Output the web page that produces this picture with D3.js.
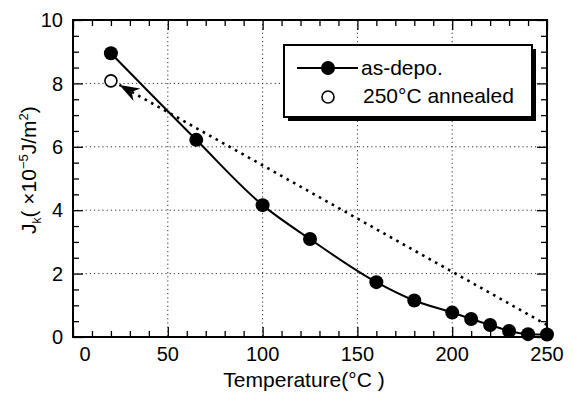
<!DOCTYPE html>
<html>
<head>
<meta charset="utf-8">
<script src="https://cdn.jsdelivr.net/npm/d3@7"></script>
<style>
  html, body { margin: 0; padding: 0; background: #fff; }
  svg { display: block; font-family: "Liberation Sans", Arial, sans-serif; }
</style>
</head>
<body>
<div id="chart"></div>
<script>
// Jk vs temperature, as-deposited series + one annealed point
const temps = [20, 65, 100, 125, 160, 180, 200, 210, 220, 230, 240, 250];
const jkAsDepo = [8.95, 6.22, 4.16, 3.09, 1.73, 1.15, 0.77, 0.57, 0.38, 0.19, 0.09, 0.08];
const annealedTemp = [20];
const annealedJk = [8.08];
// dotted arrow: from the 250C point back to the annealed value
const arrowTemps = [250, 24.5];
const arrowJk = [0.38, 7.95];

const xTicks = [0, 50, 100, 150, 200, 250];
const yTicks = [0, 2, 4, 6, 8, 10];

const width = 574, height = 403;
const margin = { top: 20, right: 27, bottom: 66, left: 73 };

const svg = d3.select("#chart").append("svg")
  .attr("width", width)
  .attr("height", height);

const x = d3.scaleLinear().domain([0, 250]).range([margin.left, width - margin.right]);
const y = d3.scaleLinear().domain([0, 10]).range([height - margin.bottom, margin.top]);

const x0 = x.range()[0], x1 = x.range()[1];
const y0 = y.range()[0], y1 = y.range()[1];

// grid (dotted)
const gridX = xTicks.slice(1, -1), gridY = yTicks.slice(1, -1);
svg.append("g").selectAll("line").data(gridX).join("line")
  .attr("x1", d => x(d)).attr("x2", d => x(d))
  .attr("y1", y1).attr("y2", y0)
  .attr("stroke", "#333").attr("stroke-width", 1)
  .attr("stroke-dasharray", "1.2,3");
svg.append("g").selectAll("line").data(gridY).join("line")
  .attr("x1", x0).attr("x2", x1)
  .attr("y1", d => y(d)).attr("y2", d => y(d))
  .attr("stroke", "#333").attr("stroke-width", 1)
  .attr("stroke-dasharray", "1.2,3");

// ticks, all pointing inward
const xMinor = d3.range(0, 251, 10).filter(d => d % 50 !== 0);
const yMinor = d3.range(0, 10.01, 0.5).filter(d => d % 2 !== 0);

function tickGroup(axis, tx, ty) {
  const g = svg.append("g").attr("transform", `translate(${tx},${ty})`).call(axis);
  g.select(".domain").remove();
  g.selectAll(".tick line").attr("stroke", "#000").attr("stroke-width", 1.3);
  g.selectAll(".tick text").remove();
  return g;
}
tickGroup(d3.axisBottom(x).tickValues(xTicks).tickSize(-10), 0, y0);
tickGroup(d3.axisBottom(x).tickValues(xMinor).tickSize(-6), 0, y0);
tickGroup(d3.axisTop(x).tickValues(xTicks).tickSize(-10), 0, y1);
tickGroup(d3.axisTop(x).tickValues(xMinor).tickSize(-6), 0, y1);
tickGroup(d3.axisLeft(y).tickValues(yTicks).tickSize(-10), x0, 0);
tickGroup(d3.axisLeft(y).tickValues(yMinor).tickSize(-6), x0, 0);
tickGroup(d3.axisRight(y).tickValues(yTicks).tickSize(-10), x1, 0);
tickGroup(d3.axisRight(y).tickValues(yMinor).tickSize(-6), x1, 0);

// frame
svg.append("rect")
  .attr("x", x0).attr("y", y1)
  .attr("width", x1 - x0).attr("height", y0 - y1)
  .attr("fill", "none").attr("stroke", "#000").attr("stroke-width", 2);

// tick labels
svg.append("g").selectAll("text").data(xTicks).join("text")
  .attr("x", d => x(d) + (d === 0 ? 12 : 0))
  .attr("y", 361)
  .attr("text-anchor", "middle")
  .style("font-size", "20px")
  .text(d => d);

svg.append("g").selectAll("text").data(yTicks).join("text")
  .attr("x", x0 - 10)
  .attr("y", d => y(d))
  .attr("dy", "0.36em")
  .attr("text-anchor", "end")
  .style("font-size", "20px")
  .text(d => d);

// axis titles
svg.append("text")
  .attr("x", 304).attr("y", 387)
  .attr("text-anchor", "middle")
  .style("font-size", "21px")
  .text("Temperature(°C )");

const yTitle = svg.append("text")
  .attr("transform", "translate(36,234) rotate(-90)")
  .style("font-size", "21px");
yTitle.append("tspan").text("J");
yTitle.append("tspan").attr("dy", 5).style("font-size", "12px").text("k");
yTitle.append("tspan").attr("dy", -5).text("( ×10");
yTitle.append("tspan").attr("dy", -8).style("font-size", "13px").text("−5");
yTitle.append("tspan").attr("dy", 8).text("J/m");
yTitle.append("tspan").attr("dy", -8).style("font-size", "13px").text("2");
yTitle.append("tspan").attr("dy", 8).text(")");

// dotted arrow
svg.append("defs").append("marker")
  .attr("id", "arrowhead")
  .attr("viewBox", "0 0 20 14")
  .attr("refX", 20).attr("refY", 7)
  .attr("markerWidth", 20).attr("markerHeight", 14)
  .attr("markerUnits", "userSpaceOnUse")
  .attr("orient", "auto")
  .append("path")
  .attr("d", "M0,0 L20,7 L0,14 L6,7 Z")
  .attr("fill", "#000");

const arrowPts = arrowTemps.map((t, i) => [x(t), y(arrowJk[i])]);
svg.append("path")
  .attr("d", d3.line()(arrowPts))
  .attr("fill", "none")
  .attr("stroke", "#000")
  .attr("stroke-width", 2.6)
  .attr("stroke-dasharray", "2.6,4.8")
  .attr("marker-end", "url(#arrowhead)");

// as-depo curve
const pts = temps.map((t, i) => [x(t), y(jkAsDepo[i])]);
svg.append("path")
  .attr("d", d3.line().curve(d3.curveMonotoneX)(pts))
  .attr("fill", "none")
  .attr("stroke", "#000")
  .attr("stroke-width", 2);

svg.append("g").selectAll("circle").data(pts).join("circle")
  .attr("cx", d => d[0]).attr("cy", d => d[1])
  .attr("r", 7)
  .attr("fill", "#000");

// annealed point
svg.append("g").selectAll("circle").data(annealedTemp).join("circle")
  .attr("cx", d => x(d)).attr("cy", (d, i) => y(annealedJk[i]))
  .attr("r", 6)
  .attr("fill", "#fff")
  .attr("stroke", "#000")
  .attr("stroke-width", 1.6);

// legend with drop shadow
const lg = svg.append("g");
lg.append("rect")
  .attr("x", 288).attr("y", 49).attr("width", 248).attr("height", 72)
  .attr("fill", "#000");
lg.append("rect")
  .attr("x", 284).attr("y", 45).attr("width", 248).attr("height", 72)
  .attr("fill", "#fff").attr("stroke", "#000").attr("stroke-width", 2);

lg.append("line")
  .attr("x1", 297).attr("x2", 358).attr("y1", 68).attr("y2", 68)
  .attr("stroke", "#000").attr("stroke-width", 2);
lg.append("circle").attr("cx", 328).attr("cy", 68).attr("r", 7).attr("fill", "#000");
lg.append("text").attr("x", 361).attr("y", 75)
  .style("font-size", "21px").text("as-depo.");

lg.append("circle").attr("cx", 328).attr("cy", 97).attr("r", 6)
  .attr("fill", "#fff").attr("stroke", "#000").attr("stroke-width", 1.6);
lg.append("text").attr("x", 363).attr("y", 103)
  .style("font-size", "21px").text("250°C annealed");
</script>
</body>
</html>
